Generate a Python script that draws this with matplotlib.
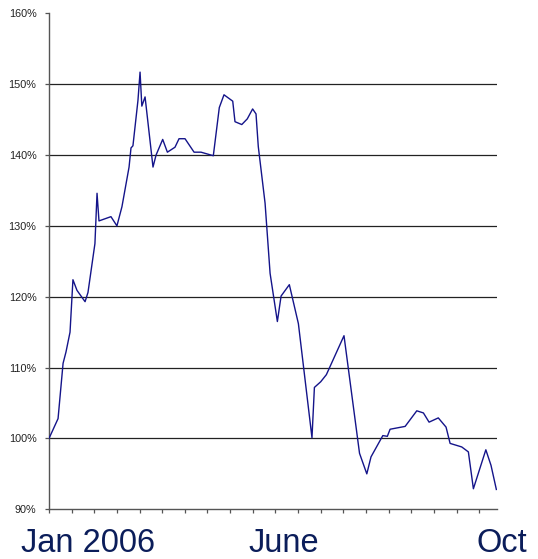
import matplotlib
matplotlib.use("Agg")
import matplotlib.pyplot as plt
import numpy as np

plt.rcParams["font.family"] = ["Liberation Sans", "DejaVu Sans"]

# Days elapsed since 1 Jan 2006 and index level (%) on those days
day = [0, 5.6, 8.7, 10.5, 13, 14.8, 17.3, 22.3, 24.1, 28.4, 29.7, 30.9, 38.3, 42,
       45.1, 49.5, 50.7, 51.9, 55, 56.3, 57.4, 59.4, 64.3, 66.2, 70.3, 73.2, 77.9,
       80.4, 84.1, 89.7, 94, 101.6, 105.3, 108.2, 113.6, 115, 119.2, 122.6, 125.9,
       128, 129.4, 133.6, 136.7, 141.2, 143.5, 148.6, 154.2, 162.6, 164.1, 168,
       171.5, 182.4, 192, 196.5, 199.1, 206.4, 209.2, 210.9, 220.2, 227.4, 231.5,
       235, 240.7, 245.5, 248, 255.2, 259.3, 262.4, 270.1, 273.3, 276.6]
pct = [100.0, 102.8, 110.6, 112.2, 115.0, 122.4, 120.9, 119.3, 120.6, 127.5, 134.6,
       130.7, 131.3, 130.0, 132.7, 138.3, 141.0, 141.3, 147.7, 151.7, 146.9, 148.2,
       138.3, 140.0, 142.2, 140.4, 141.1, 142.3, 142.3, 140.4, 140.4, 139.9, 146.7,
       148.5, 147.6, 144.7, 144.3, 145.1, 146.5, 145.8, 141.2, 133.2, 123.3, 116.5,
       120.1, 121.7, 116.2, 100.1, 107.2, 108.0, 109.0, 114.5, 97.9, 95.0, 97.4,
       100.4, 100.3, 101.3, 101.7, 103.9, 103.6, 102.3, 102.9, 101.6, 99.3, 98.8,
       98.1, 92.9, 98.4, 96.2, 92.8]

y_ticks = [90, 100, 110, 120, 130, 140, 150, 160]
x_tick_step = 14
x_end = 277
period_labels = ["Jan 2006", "June", "Oct"]
label_left_px = [21, 248, 477]

W, H = 538, 559
fig = plt.figure(figsize=(W / 100, H / 100), dpi=100)
ax = fig.add_axes([49 / W, (H - 509.3) / H, 448 / W, 496 / H])

for yv in y_ticks[1:-1]:
    ax.axhline(yv, color="#222222", lw=0.9, zorder=1)

ax.plot(day, pct, color="#14148a", lw=1.0, zorder=3)

ax.set_xlim(0, x_end)
ax.set_ylim(y_ticks[0], y_ticks[-1])
ax.set_yticks(y_ticks)
ax.set_yticklabels([f"{v}%" for v in y_ticks], fontsize=7.8, color="#222222")
ax.set_xticks(np.arange(0, x_end, x_tick_step))
ax.set_xticklabels([])

for s in ("top", "right"):
    ax.spines[s].set_visible(False)
ax.spines["left"].set_color("#555555")
ax.spines["bottom"].set_color("#555555")
ax.spines["left"].set_linewidth(1.0)
ax.spines["bottom"].set_linewidth(1.0)
ax.tick_params(axis="y", length=3, width=0.9, color="#555555", pad=6)
ax.tick_params(axis="x", length=3, width=0.9, color="#555555")

for txt, px in zip(period_labels, label_left_px):
    fig.text(px / W, 7.5 / H, txt, fontsize=23.5, color="#0b1d5a",
             ha="left", va="baseline")

fig.savefig("out.png", dpi=100)
